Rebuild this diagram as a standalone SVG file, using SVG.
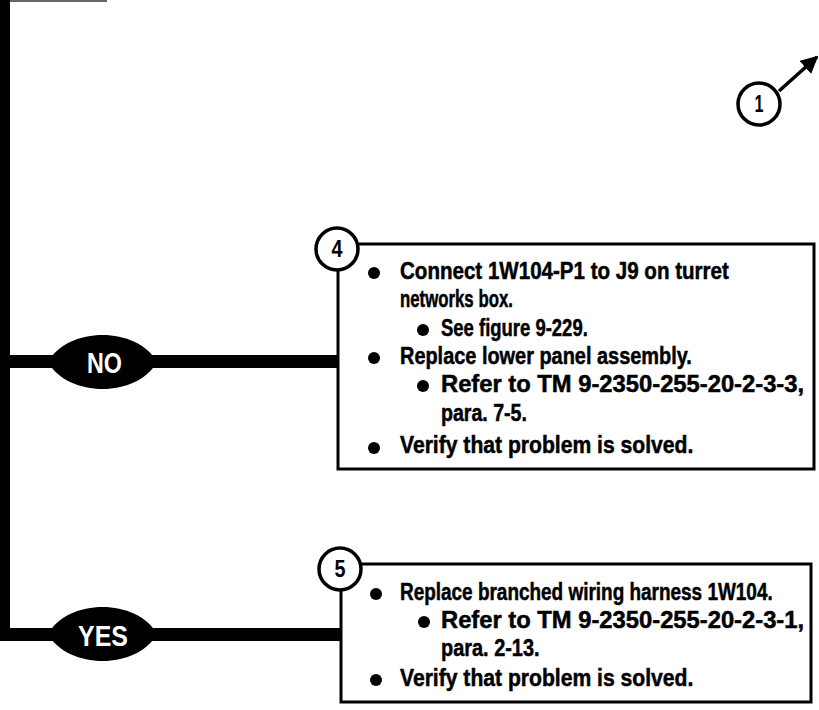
<svg xmlns="http://www.w3.org/2000/svg" width="819" height="710" viewBox="0 0 819 710">
  <defs>
    <style>
      .txt { font-family: "Liberation Sans", Arial, sans-serif; font-weight: bold; font-size: 24px; fill: #000; stroke: #000; stroke-width: 0.5; }
      .num { font-family: "Liberation Sans", Arial, sans-serif; font-weight: bold; font-size: 23px; fill: #000; text-anchor: middle; }
      .lbl { font-family: "Liberation Sans", Arial, sans-serif; font-weight: bold; font-size: 29px; fill: #fff; }
      .box { fill: #fff; stroke: #000; stroke-width: 3; }
      .ring { fill: #fff; stroke: #000; stroke-width: 3.5; }
      .bar { fill: #000; }
    </style>
    <marker id="arrow" viewBox="0 0 10 10" refX="9" refY="5" markerWidth="5" markerHeight="5" orient="auto" markerUnits="strokeWidth">
      <path d="M0,0 L10,5 L0,10 Z" fill="#000"/>
    </marker>
  </defs>

  <rect width="819" height="710" fill="#fff"/>

  <!-- connectors: trunk and NO / YES branches -->
  <g id="connectors">
    <line x1="0" y1="1" x2="107" y2="1" stroke="#666" stroke-width="2"/>
    <rect class="bar" x="0" y="0" width="10" height="641"/>
    <rect class="bar" x="0" y="355" width="338" height="13"/>
    <rect class="bar" x="0" y="628" width="341" height="13"/>
    <line x1="779" y1="91" x2="817" y2="57" stroke="#000" stroke-width="3.5" marker-end="url(#arrow)"/>
  </g>

  <!-- decision labels -->
  <g id="label-no">
    <path class="bar" d="M48 362 C68 326 137 326 157 362 C137 398 68 398 48 362 Z"/>
    <text class="lbl" x="87" y="373" textLength="35" lengthAdjust="spacingAndGlyphs">NO</text>
  </g>
  <g id="label-yes">
    <path class="bar" d="M48 634 C68 598 137 598 157 634 C137 670 68 670 48 634 Z"/>
    <text class="lbl" x="78" y="646" textLength="50" lengthAdjust="spacingAndGlyphs">YES</text>
  </g>

  <!-- step 1 callout -->
  <g id="step-1">
    <circle class="ring" cx="759" cy="104" r="21"/>
    <text class="num" x="759" y="112" textLength="9" lengthAdjust="spacingAndGlyphs">1</text>
  </g>

  <!-- step 4 -->
  <g id="step-4">
    <rect class="box" x="338" y="244" width="476" height="225"/>
    <circle class="ring" cx="337" cy="249" r="21"/>
    <text class="num" x="337" y="257" textLength="11" lengthAdjust="spacingAndGlyphs">4</text>
    <circle cx="374" cy="273" r="6"/>
    <text class="txt" transform="translate(400 279) scale(0.857 1)">Connect 1W104-P1 to J9 on turret</text>
    <text class="txt" transform="translate(400 307) scale(0.70 1)">networks box.</text>
    <circle cx="423" cy="330" r="6"/>
    <text class="txt" transform="translate(441 336) scale(0.77 1)">See figure 9-229.</text>
    <circle cx="374" cy="358" r="6"/>
    <text class="txt" transform="translate(400 364) scale(0.83 1)">Replace lower panel assembly.</text>
    <circle cx="423" cy="386" r="6"/>
    <text class="txt" transform="translate(441 392) scale(0.99 1)">Refer to TM 9-2350-255-20-2-3-3,</text>
    <text class="txt" transform="translate(441 421) scale(0.816 1)">para. 7-5.</text>
    <circle cx="374" cy="448" r="6"/>
    <text class="txt" transform="translate(400 453) scale(0.88 1)">Verify that problem is solved.</text>
  </g>

  <!-- step 5 -->
  <g id="step-5">
    <rect class="box" x="341" y="564" width="470" height="138"/>
    <circle class="ring" cx="340" cy="569" r="21"/>
    <text class="num" x="340" y="577" textLength="11" lengthAdjust="spacingAndGlyphs">5</text>
    <circle cx="376" cy="594" r="6"/>
    <text class="txt" transform="translate(400 600) scale(0.79 1)">Replace branched wiring harness 1W104.</text>
    <circle cx="424" cy="622" r="6"/>
    <text class="txt" transform="translate(441 628) scale(0.99 1)">Refer to TM 9-2350-255-20-2-3-1,</text>
    <text class="txt" transform="translate(441 656) scale(0.83 1)">para. 2-13.</text>
    <circle cx="376" cy="680" r="6"/>
    <text class="txt" transform="translate(400 686) scale(0.88 1)">Verify that problem is solved.</text>
  </g>
</svg>
